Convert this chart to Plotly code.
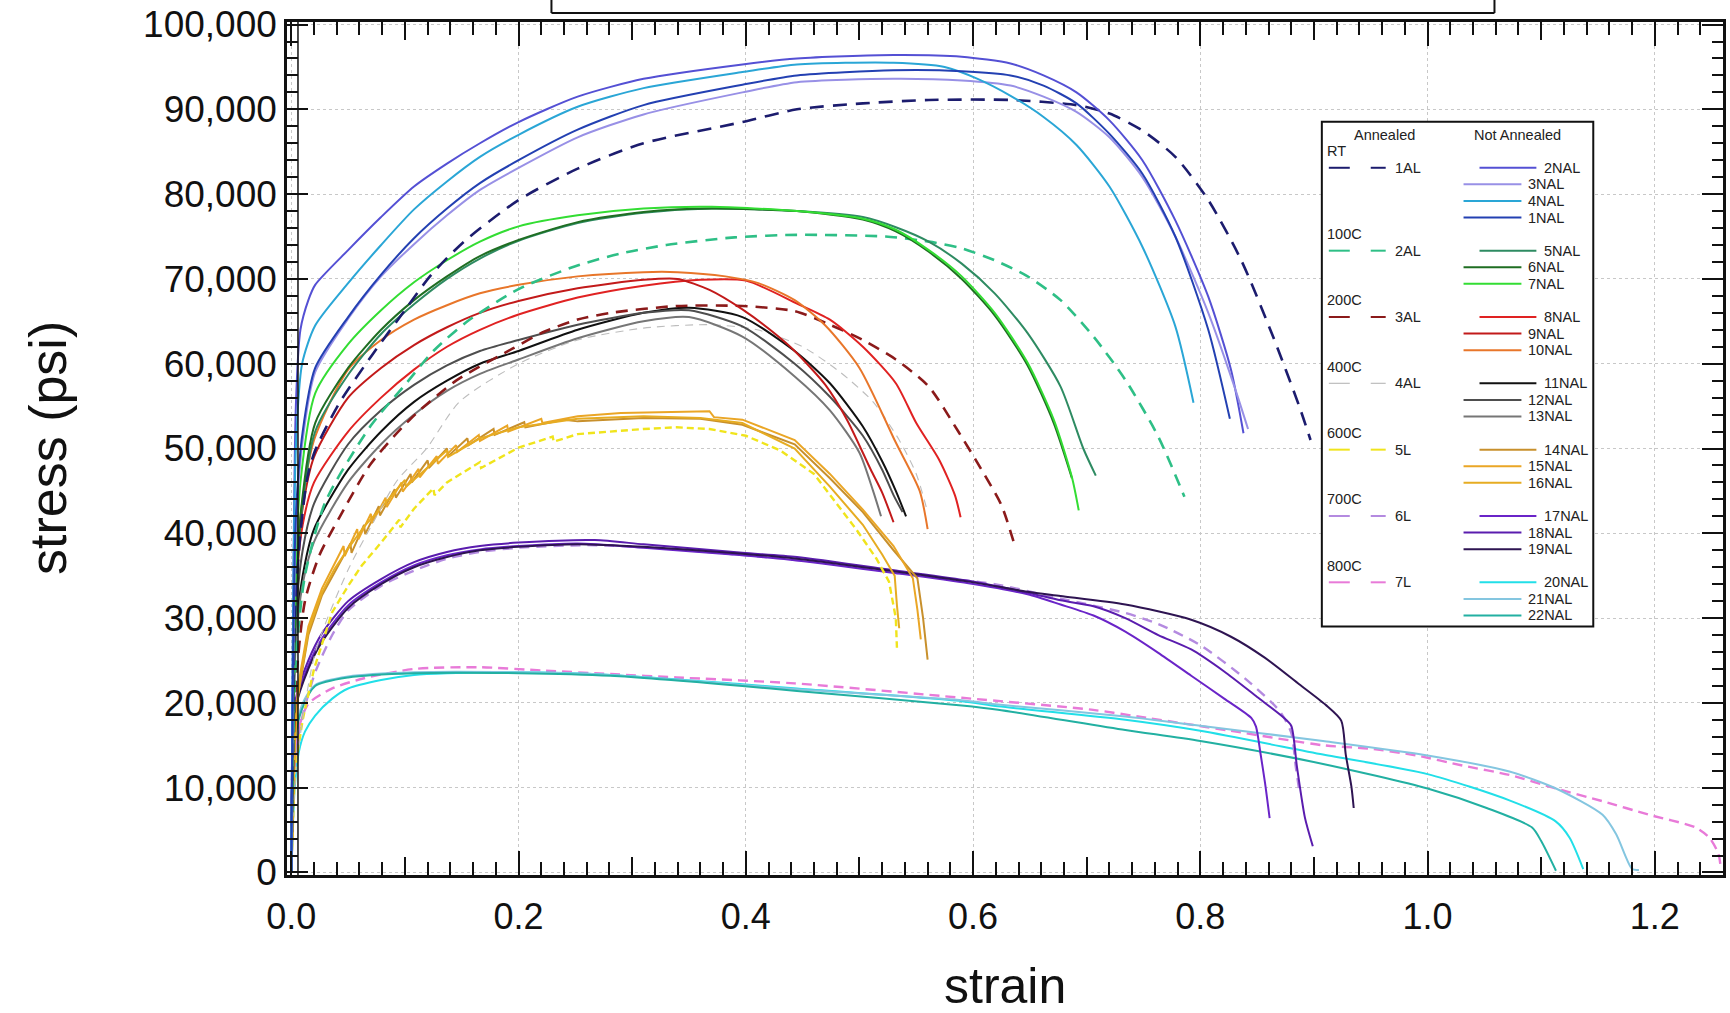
import plotly.graph_objects as go

# ---------------- data (strain, stress in psi) ----------------
# RT
x_1AL = [0, 0.003, 0.008, 0.014, 0.021, 0.042, 0.071, 0.101, 0.122, 0.152, 0.200, 0.252, 0.310, 0.397, 0.445, 0.503, 0.561, 0.633, 0.691, 0.720, 0.749, 0.778, 0.807, 0.836, 0.864, 0.887, 0.897]
y_1AL = [0, 30000, 40000, 46500, 49800, 55300, 61000, 66500, 70300, 74400, 79300, 83000, 86000, 88500, 90000, 90700, 91100, 91100, 90500, 89500, 87500, 84400, 79300, 72200, 63200, 55000, 51000]
x_2NAL = [0, 0.004, 0.008, 0.015, 0.021, 0.050, 0.079, 0.108, 0.137, 0.166, 0.200, 0.252, 0.310, 0.397, 0.445, 0.530, 0.590, 0.633, 0.662, 0.691, 0.720, 0.749, 0.778, 0.807, 0.827, 0.838]
y_2NAL = [0, 55000, 64000, 67500, 69300, 73400, 77300, 80900, 83600, 86000, 88500, 91500, 93600, 95300, 96000, 96400, 96200, 95400, 94000, 92000, 88700, 84000, 76900, 67900, 59300, 51800]
x_3NAL = [0, 0.004, 0.010, 0.021, 0.050, 0.079, 0.108, 0.137, 0.166, 0.200, 0.252, 0.310, 0.397, 0.445, 0.530, 0.590, 0.633, 0.662, 0.691, 0.720, 0.749, 0.778, 0.807, 0.830, 0.842]
y_3NAL = [0, 40000, 51000, 59000, 65300, 70300, 74100, 77500, 80500, 83100, 86700, 89400, 92000, 93200, 93600, 93400, 92800, 91500, 89700, 86700, 82000, 75000, 66000, 57300, 52300]
x_4NAL = [0, 0.004, 0.0095, 0.021, 0.050, 0.079, 0.108, 0.137, 0.166, 0.200, 0.252, 0.310, 0.397, 0.445, 0.530, 0.575, 0.604, 0.633, 0.662, 0.691, 0.720, 0.749, 0.778, 0.794]
y_4NAL = [0, 50000, 60000, 64500, 69500, 74000, 78200, 81500, 84400, 87000, 90300, 92500, 94400, 95300, 95500, 95000, 93600, 91600, 89100, 85800, 80900, 73800, 64400, 55400]
x_1NAL = [0, 0.004, 0.010, 0.021, 0.050, 0.079, 0.108, 0.137, 0.166, 0.200, 0.252, 0.310, 0.397, 0.445, 0.530, 0.590, 0.633, 0.662, 0.691, 0.720, 0.749, 0.778, 0.807, 0.826]
y_1NAL = [0, 42000, 52000, 59500, 65500, 70500, 74800, 78300, 81300, 84000, 87600, 90500, 92900, 94000, 94600, 94500, 94000, 92800, 90700, 87100, 82400, 75000, 64000, 53500]

# 100C
x_2AL = [0, 0.004, 0.012, 0.030, 0.070, 0.100, 0.125, 0.155, 0.200, 0.250, 0.290, 0.330, 0.390, 0.445, 0.523, 0.561, 0.590, 0.619, 0.648, 0.677, 0.706, 0.734, 0.763, 0.786]
y_2AL = [0, 25000, 35000, 43700, 52700, 57500, 61500, 65000, 68800, 71500, 73000, 74000, 74900, 75200, 75000, 74400, 73600, 72200, 70300, 67500, 63200, 58100, 51400, 44300]
x_5NAL = [0, 0.003, 0.008, 0.021, 0.050, 0.079, 0.108, 0.137, 0.166, 0.200, 0.252, 0.310, 0.370, 0.445, 0.503, 0.532, 0.561, 0.590, 0.619, 0.648, 0.677, 0.697, 0.708]
y_5NAL = [0, 27000, 41000, 52000, 58700, 63500, 67000, 70000, 72400, 74500, 76600, 77800, 78300, 78000, 77300, 76100, 74400, 71800, 68300, 63600, 57300, 50000, 46800]
x_6NAL = [0, 0.003, 0.008, 0.021, 0.050, 0.079, 0.108, 0.137, 0.166, 0.200, 0.252, 0.310, 0.370, 0.445, 0.503, 0.532, 0.561, 0.590, 0.619, 0.648, 0.671, 0.687]
y_6NAL = [0, 28000, 42000, 53000, 59500, 64000, 67500, 70300, 72700, 74600, 76700, 77900, 78300, 78000, 77000, 75600, 73200, 70000, 65700, 59800, 53000, 46500]
x_7NAL = [0, 0.003, 0.008, 0.021, 0.050, 0.079, 0.108, 0.137, 0.166, 0.200, 0.252, 0.310, 0.370, 0.445, 0.503, 0.532, 0.561, 0.590, 0.619, 0.648, 0.671, 0.687, 0.693]
y_7NAL = [0, 32000, 46000, 56500, 62300, 66300, 69600, 72200, 74400, 76200, 77500, 78300, 78500, 78000, 77100, 75800, 73400, 70300, 66000, 60100, 53400, 46600, 42700]

# 200C
x_3AL = [0, 0.004, 0.012, 0.025, 0.042, 0.070, 0.105, 0.145, 0.195, 0.223, 0.252, 0.281, 0.339, 0.397, 0.443, 0.474, 0.503, 0.532, 0.561, 0.587, 0.607, 0.625, 0.637]
y_3AL = [0, 22000, 32000, 37500, 41800, 48200, 53500, 58000, 61800, 63800, 65200, 66000, 66800, 66800, 66200, 64600, 62800, 60500, 57300, 52000, 47600, 43300, 38400]
x_8NAL = [0, 0.004, 0.010, 0.020, 0.050, 0.079, 0.108, 0.137, 0.166, 0.200, 0.252, 0.310, 0.360, 0.400, 0.445, 0.474, 0.503, 0.532, 0.550, 0.570, 0.584, 0.589]
y_8NAL = [0, 33000, 41000, 46000, 52000, 56000, 59300, 62000, 64000, 65800, 67800, 69200, 69900, 69800, 67100, 65200, 62000, 57700, 53000, 48700, 44500, 41900]
x_9NAL = [0, 0.004, 0.010, 0.020, 0.050, 0.079, 0.108, 0.137, 0.166, 0.200, 0.252, 0.310, 0.340, 0.368, 0.397, 0.426, 0.443, 0.470, 0.489, 0.510, 0.520, 0.530]
y_9NAL = [0, 35000, 43000, 49000, 56000, 59500, 62200, 64300, 66000, 67400, 68900, 69900, 70000, 68700, 66400, 63500, 61500, 57500, 53400, 47500, 44800, 41300]
x_10NAL = [0, 0.003, 0.008, 0.020, 0.050, 0.079, 0.108, 0.137, 0.166, 0.200, 0.252, 0.310, 0.340, 0.382, 0.411, 0.443, 0.470, 0.500, 0.532, 0.553, 0.560]
y_10NAL = [0, 30000, 42000, 51000, 59300, 62800, 65200, 66900, 68300, 69300, 70300, 70800, 70800, 70300, 69500, 67500, 64500, 59500, 50700, 45000, 40500]

# 400C
x_4AL = [0, 0.004, 0.021, 0.050, 0.073, 0.093, 0.119, 0.148, 0.200, 0.252, 0.310, 0.368, 0.410, 0.450, 0.483, 0.512, 0.535, 0.550, 0.560]
y_4AL = [0, 12000, 25900, 35700, 41500, 46200, 50000, 55500, 60000, 62800, 64200, 64600, 64000, 62000, 59000, 55500, 51000, 47000, 42500]
x_11NAL = [0, 0.004, 0.010, 0.020, 0.050, 0.079, 0.108, 0.137, 0.166, 0.200, 0.252, 0.310, 0.350, 0.397, 0.443, 0.474, 0.503, 0.520, 0.532, 0.541]
y_11NAL = [0, 28000, 35000, 40500, 47500, 52000, 55500, 58000, 60000, 61500, 64000, 66000, 66600, 65500, 61500, 57700, 52600, 48500, 45000, 42000]
x_12NAL = [0, 0.004, 0.010, 0.020, 0.050, 0.079, 0.108, 0.137, 0.166, 0.200, 0.252, 0.310, 0.350, 0.397, 0.443, 0.474, 0.503, 0.520, 0.530, 0.538]
y_12NAL = [0, 30000, 38000, 43500, 50500, 54500, 57500, 59800, 61500, 62800, 64600, 66000, 66300, 64400, 60000, 56100, 51500, 47500, 44500, 42500]
x_13NAL = [0, 0.004, 0.010, 0.020, 0.050, 0.079, 0.108, 0.137, 0.166, 0.200, 0.252, 0.310, 0.350, 0.397, 0.443, 0.474, 0.500, 0.512, 0.519]
y_13NAL = [0, 27000, 34000, 39000, 46000, 50500, 54000, 56800, 58800, 60500, 63000, 65000, 65500, 63200, 58500, 54500, 49500, 45000, 42000]

# 600C
x_5L = [0, 0.003, 0.010, 0.020, 0.036, 0.050, 0.062, 0.079, 0.095, 0.096, 0.108, 0.125, 0.126, 0.137, 0.166, 0.167, 0.200, 0.230, 0.231, 0.252, 0.310, 0.339, 0.368, 0.400, 0.430, 0.460, 0.497, 0.515, 0.526, 0.532, 0.533]
y_5L = [0, 12000, 18000, 24000, 30700, 33800, 36200, 38900, 41600, 40700, 42900, 45300, 44500, 46000, 48400, 47700, 50100, 51400, 50800, 51700, 52300, 52500, 52300, 51500, 49800, 47000, 40500, 37000, 34300, 30000, 26500]
x_14NAL = [0, 0.003, 0.006, 0.015, 0.027, 0.038, 0.052, 0.053, 0.064, 0.065, 0.077, 0.078, 0.091, 0.092, 0.105, 0.106, 0.120, 0.121, 0.137, 0.138, 0.155, 0.156, 0.178, 0.179, 0.205, 0.206, 0.240, 0.252, 0.310, 0.360, 0.397, 0.443, 0.474, 0.503, 0.530, 0.551, 0.556, 0.560]
y_14NAL = [0, 15000, 21000, 28000, 32700, 35400, 38800, 37700, 41000, 39900, 43200, 42100, 45200, 44200, 47000, 46000, 48600, 47700, 50000, 49100, 51200, 50400, 52300, 51600, 53100, 52500, 53400, 53200, 53600, 53500, 52800, 50500, 46500, 42500, 38000, 34700, 30000, 25100]
x_15NAL = [0, 0.003, 0.006, 0.015, 0.027, 0.038, 0.046, 0.047, 0.058, 0.059, 0.070, 0.071, 0.083, 0.084, 0.097, 0.098, 0.112, 0.113, 0.128, 0.129, 0.145, 0.146, 0.165, 0.166, 0.190, 0.191, 0.220, 0.221, 0.252, 0.290, 0.325, 0.368, 0.372, 0.397, 0.443, 0.474, 0.503, 0.530, 0.547, 0.551, 0.554]
y_15NAL = [0, 16000, 22000, 29000, 33500, 36500, 38500, 37300, 40500, 39300, 42300, 41200, 44200, 43100, 46000, 44900, 47600, 46600, 49100, 48200, 50400, 49600, 51600, 50900, 52700, 52000, 53500, 53000, 53800, 54200, 54300, 54400, 53700, 53400, 51000, 47000, 42800, 38500, 34700, 31000, 27500]
x_16NAL = [0, 0.003, 0.006, 0.015, 0.027, 0.038, 0.050, 0.064, 0.079, 0.100, 0.101, 0.137, 0.138, 0.166, 0.200, 0.252, 0.310, 0.360, 0.397, 0.443, 0.474, 0.503, 0.520, 0.531, 0.533, 0.535]
y_16NAL = [0, 15000, 21000, 28500, 33000, 35800, 38200, 40800, 43000, 46300, 45500, 49800, 49000, 51200, 52500, 53500, 53800, 53600, 53000, 50000, 45500, 41000, 37500, 35000, 31500, 28800]

# 700C
x_6L = [0, 0.004, 0.010, 0.021, 0.036, 0.050, 0.079, 0.108, 0.137, 0.166, 0.200, 0.260, 0.320, 0.400, 0.470, 0.540, 0.619, 0.677, 0.734, 0.763, 0.800, 0.840, 0.870, 0.880, 0.884, 0.887]
y_6L = [0, 14000, 18500, 23600, 28000, 30900, 33800, 35600, 37000, 37800, 38300, 38600, 38300, 37400, 36500, 35200, 34000, 32300, 30600, 29300, 26800, 22800, 19000, 16500, 12500, 9700]
x_17NAL = [0, 0.004, 0.015, 0.027, 0.050, 0.079, 0.108, 0.137, 0.166, 0.200, 0.252, 0.310, 0.397, 0.445, 0.532, 0.596, 0.648, 0.677, 0.706, 0.734, 0.763, 0.792, 0.821, 0.845, 0.849, 0.853, 0.857, 0.861]
y_17NAL = [0, 20000, 24400, 27600, 31500, 34200, 36200, 37400, 38100, 38500, 38800, 38300, 37400, 36800, 35300, 34100, 32800, 31600, 30300, 28400, 25900, 23200, 20500, 18200, 17200, 14000, 10500, 6400]
x_18NAL = [0, 0.004, 0.015, 0.027, 0.050, 0.079, 0.108, 0.137, 0.166, 0.200, 0.267, 0.310, 0.397, 0.445, 0.532, 0.596, 0.648, 0.677, 0.706, 0.734, 0.763, 0.792, 0.821, 0.850, 0.873, 0.880, 0.885, 0.892, 0.899]
y_18NAL = [0, 20500, 25000, 28200, 32000, 34600, 36600, 37800, 38500, 38900, 39200, 38700, 37700, 37200, 35600, 34400, 33000, 32100, 31400, 30000, 28000, 26300, 23700, 20700, 18300, 17300, 12500, 6500, 3100]
x_19NAL = [0, 0.004, 0.015, 0.027, 0.050, 0.079, 0.108, 0.137, 0.166, 0.200, 0.252, 0.310, 0.397, 0.445, 0.532, 0.596, 0.648, 0.677, 0.734, 0.792, 0.827, 0.857, 0.887, 0.910, 0.924, 0.928, 0.933, 0.935]
y_19NAL = [0, 19500, 24000, 27200, 31200, 34000, 36000, 37200, 38000, 38400, 38700, 38400, 37600, 37000, 35500, 34300, 33100, 32600, 31600, 29800, 27800, 25300, 22200, 19800, 17900, 13900, 10100, 7600]

# 800C
x_7L = [0, 0.003, 0.0066, 0.015, 0.036, 0.064, 0.108, 0.166, 0.223, 0.281, 0.339, 0.443, 0.590, 0.704, 0.745, 0.827, 0.908, 0.949, 0.990, 1.031, 1.072, 1.113, 1.154, 1.195, 1.236, 1.248, 1.256, 1.258]
y_7L = [0, 12000, 17000, 19900, 21700, 22900, 24000, 24200, 23800, 23400, 23000, 22300, 20600, 19200, 18400, 16700, 15000, 14600, 13800, 12600, 11500, 9900, 8400, 6800, 5300, 4100, 2200, 500]
x_20NAL = [0, 0.003, 0.0066, 0.012, 0.021, 0.036, 0.050, 0.079, 0.108, 0.137, 0.200, 0.281, 0.397, 0.445, 0.590, 0.622, 0.734, 0.800, 0.908, 1.000, 1.072, 1.113, 1.125, 1.137]
y_20NAL = [0, 10000, 14200, 16600, 18500, 20500, 21700, 22700, 23300, 23500, 23600, 23300, 22200, 21700, 20200, 19600, 18000, 16700, 13900, 11600, 8500, 6000, 4100, 400]
x_21NAL = [0, 0.003, 0.0095, 0.021, 0.050, 0.108, 0.200, 0.281, 0.397, 0.445, 0.590, 0.622, 0.734, 0.800, 0.908, 1.000, 1.072, 1.113, 1.154, 1.166, 1.180, 1.186]
y_21NAL = [0, 15000, 19800, 22100, 23100, 23600, 23600, 23300, 22100, 21600, 20300, 19800, 18400, 17300, 15500, 13800, 11900, 9900, 6800, 4500, 400, 300]
x_22NAL = [0, 0.003, 0.0095, 0.021, 0.050, 0.108, 0.200, 0.281, 0.397, 0.445, 0.590, 0.622, 0.734, 0.800, 0.908, 1.000, 1.052, 1.092, 1.100, 1.113]
y_22NAL = [0, 15500, 19300, 22000, 23000, 23500, 23500, 23200, 22000, 21400, 19700, 19200, 16800, 15500, 12800, 9900, 7600, 5300, 3700, 200]

x_ticks = [0.0, 0.2, 0.4, 0.6, 0.8, 1.0, 1.2]
x_mid_ticks = [0.1, 0.3, 0.5, 0.7, 0.9, 1.1]
y_ticks = [0, 10000, 20000, 30000, 40000, 50000, 60000, 70000, 80000, 90000, 100000]

group_names = ["RT", "100C", "200C", "400C", "600C", "700C", "800C"]
annealed_names = ["1AL", "2AL", "3AL", "4AL", "5L", "6L", "7L"]
not_annealed_names = [["2NAL", "3NAL", "4NAL", "1NAL"], ["5NAL", "6NAL", "7NAL"], ["8NAL", "9NAL", "10NAL"],
                      ["11NAL", "12NAL", "13NAL"], ["14NAL", "15NAL", "16NAL"], ["17NAL", "18NAL", "19NAL"],
                      ["20NAL", "21NAL", "22NAL"]]

# ---------------- styles ----------------
colors = {
    "1AL": "#1c1c6e", "2NAL": "#5450d4", "3NAL": "#9890e6", "4NAL": "#2aa6d6", "1NAL": "#2340b2",
    "2AL": "#2ebf86", "5NAL": "#2e8b62", "6NAL": "#1f6e22", "7NAL": "#33dd33",
    "3AL": "#8b1a1a", "8NAL": "#e02222", "9NAL": "#c21a1a", "10NAL": "#e8762a",
    "4AL": "#bdbdbd", "11NAL": "#111111", "12NAL": "#4e4e4e", "13NAL": "#767676",
    "5L": "#f0e41c", "14NAL": "#c8902c", "15NAL": "#eaa626", "16NAL": "#e6ac22",
    "6L": "#b48ae0", "17NAL": "#6a24c8", "18NAL": "#5a1cae", "19NAL": "#2e1452",
    "7L": "#e87ad8", "20NAL": "#22dfe8", "21NAL": "#84c6e0", "22NAL": "#22b0a2",
}
dashes = {"1AL": "14px,9px", "2AL": "12px,8px", "3AL": "12px,8px", "4AL": "8px,6px",
          "5L": "7px,4px", "6L": "10px,7px", "7L": "10px,6px"}
widths = {"1AL": 2.6, "2AL": 2.6, "3AL": 2.6, "4AL": 1.1, "5L": 2.4, "6L": 2.4, "7L": 2.4}
serrated = {"5L", "14NAL", "15NAL", "16NAL"}

series = [
    ("7L", x_7L, y_7L), ("20NAL", x_20NAL, y_20NAL), ("21NAL", x_21NAL, y_21NAL), ("22NAL", x_22NAL, y_22NAL),
    ("6L", x_6L, y_6L), ("17NAL", x_17NAL, y_17NAL), ("18NAL", x_18NAL, y_18NAL), ("19NAL", x_19NAL, y_19NAL),
    ("5L", x_5L, y_5L), ("14NAL", x_14NAL, y_14NAL), ("15NAL", x_15NAL, y_15NAL), ("16NAL", x_16NAL, y_16NAL),
    ("4AL", x_4AL, y_4AL), ("11NAL", x_11NAL, y_11NAL), ("12NAL", x_12NAL, y_12NAL), ("13NAL", x_13NAL, y_13NAL),
    ("3AL", x_3AL, y_3AL), ("8NAL", x_8NAL, y_8NAL), ("9NAL", x_9NAL, y_9NAL), ("10NAL", x_10NAL, y_10NAL),
    ("2AL", x_2AL, y_2AL), ("5NAL", x_5NAL, y_5NAL), ("6NAL", x_6NAL, y_6NAL), ("7NAL", x_7NAL, y_7NAL),
    ("1AL", x_1AL, y_1AL), ("2NAL", x_2NAL, y_2NAL), ("3NAL", x_3NAL, y_3NAL), ("4NAL", x_4NAL, y_4NAL),
    ("1NAL", x_1NAL, y_1NAL),
]

FONT = "Arial, Liberation Sans, sans-serif"
W, H = 1730, 1013
ML, MR, MT, MB = 287, 4, 20, 138
PW, PH = W - ML - MR, H - MT - MB


def px(xp):
    return (xp - ML) / PW


def py(yp):
    return (H - MB - yp) / PH


fig = go.Figure()
for name, xs, ys in series:
    smooth = name not in serrated
    fig.add_trace(go.Scatter(
        x=xs, y=ys, mode="lines", name=name, showlegend=False,
        line=dict(color=colors[name], width=widths.get(name, 2.0), dash=dashes.get(name, "solid"),
                  shape="spline" if smooth else "linear", smoothing=0.7 if smooth else None),
    ))

# helper trace for the medium (0.1) ticks axis
fig.add_trace(go.Scatter(x=[None], y=[None], xaxis="x2", showlegend=False, hoverinfo="skip"))

# ---------------- custom legend ----------------
shapes = []
annotations = []
shapes.append(dict(type="rect", xref="paper", yref="paper", x0=px(1324), x1=px(1596), y0=py(626), y1=py(120),
                   line=dict(color="#111", width=2), fillcolor="white", layer="above"))
# cut-off title box at top (only its lower part is visible)
for (xa, ya, xb, yb) in [(552, 11, 1497, 11), (552, -20, 552, 11), (1497, -20, 1497, 11)]:
    shapes.append(dict(type="line", xref="paper", yref="paper", x0=px(xa), y0=py(ya), x1=px(xb), y1=py(yb),
                       line=dict(color="#111", width=2), layer="above"))
# inner left line (ladder look of the left axis)
shapes.append(dict(type="line", xref="paper", yref="paper", x0=px(298), x1=px(298), y0=0, y1=1,
                   line=dict(color="#111", width=1.5), layer="above"))

LF = 14.5
annotations.append(dict(text="Annealed", x=px(1387), y=py(133), xref="paper", yref="paper", showarrow=False,
                        font=dict(family=FONT, size=LF, color="#222"), xanchor="center", yanchor="middle"))
annotations.append(dict(text="Not Annealed", x=px(1520), y=py(133), xref="paper", yref="paper", showarrow=False,
                        font=dict(family=FONT, size=LF, color="#222"), xanchor="center", yanchor="middle"))

row_h = 16.62
ycur = 149.5
for gi, gname in enumerate(group_names):
    annotations.append(dict(text=gname, x=px(1327), y=py(ycur), xref="paper", yref="paper", showarrow=False,
                            font=dict(family=FONT, size=LF, color="#222"), xanchor="left", yanchor="middle"))
    ycur += row_h
    al = annealed_names[gi]
    lw = 2 if al != "4AL" else 1.2
    for (a, b) in [(1331, 1352), (1373, 1388)]:
        shapes.append(dict(type="line", xref="paper", yref="paper", x0=px(a), x1=px(b), y0=py(ycur), y1=py(ycur),
                           line=dict(color=colors[al], width=lw), layer="above"))
    annotations.append(dict(text=al, x=px(1395), y=py(ycur), xref="paper", yref="paper", showarrow=False,
                            font=dict(family=FONT, size=LF, color="#222"), xanchor="left", yanchor="middle"))
    for ri, nal in enumerate(not_annealed_names[gi]):
        if ri == 0:
            l0, l1, tx = 1482, 1539, 1545
        else:
            l0, l1, tx = 1466, 1524, 1529
        shapes.append(dict(type="line", xref="paper", yref="paper", x0=px(l0), x1=px(l1), y0=py(ycur), y1=py(ycur),
                           line=dict(color=colors[nal], width=2), layer="above"))
        annotations.append(dict(text=nal, x=px(tx), y=py(ycur), xref="paper", yref="paper", showarrow=False,
                                font=dict(family=FONT, size=LF, color="#222"), xanchor="left", yanchor="middle"))
        ycur += row_h

# axis titles
annotations.append(dict(text="strain", x=0.5, y=py(986), xref="paper", yref="paper", showarrow=False,
                        font=dict(family=FONT, size=50, color="#111"), xanchor="center", yanchor="middle"))
annotations.append(dict(text="stress (psi)", x=px(47), y=0.5, xref="paper", yref="paper", showarrow=False,
                        textangle=-90, font=dict(family=FONT, size=52, color="#111"),
                        xanchor="center", yanchor="middle"))

XR = [-0.0038, 1.26]
fig.update_layout(
    width=W, height=H,
    margin=dict(l=ML, r=MR, t=MT, b=MB, pad=0),
    paper_bgcolor="white", plot_bgcolor="white",
    font=dict(family=FONT, color="#111"),
    showlegend=False,
    shapes=shapes, annotations=annotations,
    xaxis=dict(
        range=XR, tickvals=x_ticks, tickformat=".1f",
        ticks="inside", ticklen=24, tickwidth=2, tickcolor="#111",
        showline=True, linewidth=2.5, linecolor="#111", mirror="ticks",
        showgrid=True, gridcolor="#c8c8c8", griddash="dot", gridwidth=1,
        zeroline=False, tickfont=dict(size=36, family=FONT, color="#111"),
        ticklabelstandoff=8,
        minor=dict(dtick=0.02, tick0=0, ticks="inside", ticklen=13, tickwidth=1.6, tickcolor="#111", showgrid=False),
    ),
    xaxis2=dict(
        range=XR, overlaying="x", matches="x", side="bottom", anchor="y",
        tickvals=x_mid_ticks, showticklabels=False, ticks="inside", ticklen=18, tickwidth=1.8,
        tickcolor="#111", mirror="ticks", showline=False, showgrid=False, zeroline=False,
    ),
    yaxis=dict(
        range=[-300, 100300], tickvals=y_ticks, tickformat=",",
        ticks="inside", ticklen=21, tickwidth=2, tickcolor="#111",
        showline=True, linewidth=2.5, linecolor="#111", mirror="ticks",
        showgrid=True, gridcolor="#c8c8c8", griddash="dot", gridwidth=1,
        zeroline=False, tickfont=dict(size=37, family=FONT, color="#111"),
        ticklabelstandoff=0,
        minor=dict(dtick=2000, tick0=0, ticks="inside", ticklen=11, tickwidth=1.6, tickcolor="#111", showgrid=False),
    ),
)

fig.write_html("out.html", config={"displayModeBar": False},
               post_script="document.body.style.margin='0px';document.body.style.overflow='hidden';")
